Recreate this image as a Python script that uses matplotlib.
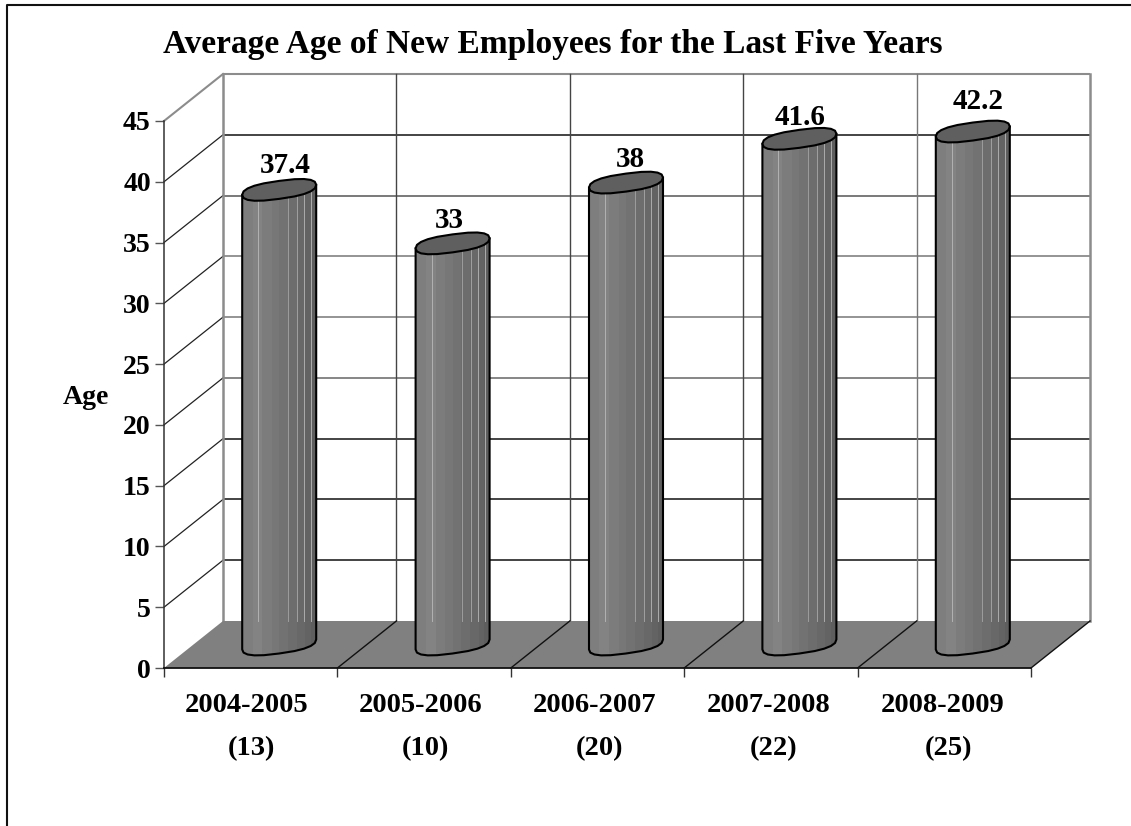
import numpy as np
import matplotlib
matplotlib.use('Agg')
import matplotlib.pyplot as plt
from matplotlib.lines import Line2D
from matplotlib.patches import Polygon

plt.rcParams['font.family'] = ['Liberation Serif', 'DejaVu Serif']
plt.rcParams['font.weight'] = 'bold'

anos = ['2004-2005', '2005-2006', '2006-2007', '2007-2008', '2008-2009']
contratados = [13, 10, 20, 22, 25]
idades = [37.4, 33, 38, 41.6, 42.2]
rotulos = ['37.4', '33', '38', '41.6', '42.2']
rotulo_dx = [6, -3, 4, 1, 5.5]  # px from the cylinder centre
rotulo_dy = [24, 23, 23, 21, 30]  # px above the top of each cylinder
y_ticks = [0, 5, 10, 15, 20, 25, 30, 35, 40, 45]

W, H = 1131, 826
fig = plt.figure(figsize=(W / 100, H / 100), dpi=100)
ax = fig.add_axes([164 / W, 1 - 668 / H, 867 / W, 547 / H])
ax.set_xlim(0, 5)
ax.set_ylim(0, 45)
ax.patch.set_alpha(0)

# pixels per data unit, used for the oblique depth of the box
px_x = 867 / 5
px_y = 547 / 45
DX = 59 / px_x
DY = 47 / px_y

# outer frame, only left and top
fig.add_artist(Line2D([7 / W, 7 / W, 1], [0, 1 - 5 / H, 1 - 5 / H], color='#111111', lw=1.5))

# back wall and side wall grid
cores_grade = ['#808080', '#111111', '#111111', '#111111', '#666666',
               '#777777', '#777777', '#555555', '#111111', '#8c8c8c']
for v, cor in zip(y_ticks[1:], cores_grade[1:]):
    ax.plot([DX, 5 + DX], [v + DY, v + DY], color=cor, lw=1.5 if cor == '#8c8c8c' else 1.1,
            clip_on=False, zorder=1, solid_capstyle='butt')
    ax.plot([0, DX], [v, v + DY], color='#8c8c8c' if v == 45 else '#222222',
            lw=1.5 if v == 45 else 0.9, clip_on=False, zorder=1)

cores_vert = ['#8c8c8c', '#444444', '#444444', '#444444', '#777777', '#8c8c8c']
for i, cor in enumerate(cores_vert):
    ax.plot([i + DX, i + DX], [DY, 45 + DY], color=cor,
            lw=1.8 if cor == '#8c8c8c' else 1.0, clip_on=False, zorder=1)

# floor
ax.add_patch(Polygon([(0, 0), (5, 0), (5 + DX, DY), (DX, DY)], closed=True, fc='#808080',
                     ec='none', clip_on=False, zorder=2))
for i in range(1, 6):
    ax.plot([i, i + DX], [0, DY], color='#111111', lw=1.0, clip_on=False, zorder=2.1)

# cylinders
a = 37 / px_x
b = 9 / px_y
s = 5 / px_y
desloc = 1 / px_x
faixas = [0.0, 0.14, 0.27, 0.40, 0.50, 0.62, 0.74, 0.85, 0.93, 1.0]
cores_faixa = ['#7e7e7e', '#838383', '#7c7c7c', '#777777', '#727272',
               '#6d6d6d', '#686868', '#636363', '#5e5e5e']
riscos = [16, 46, 55, 62, 69]
alpha_riscos = [0.55, 0.45, 0.5, 0.6, 0.65]


def aba(t):
    # blunt ellipse, the ends of the rim are squarer than a true ellipse
    c = np.cos(t)
    sn = np.sin(t)
    return np.sign(c) * np.abs(c) ** 0.75, np.sign(sn) * np.abs(sn) ** 0.85


for i, v in enumerate(idades):
    cx = i + 0.5 + DX / 2 - desloc
    y0 = DY / 2
    y1 = v + DY / 2
    t = np.linspace(np.pi, 2 * np.pi, 11)
    cu, su = aba(t)
    arco_x = cx + a * cu
    arco_y = y0 + s * cu + b * su
    corpo = np.column_stack([np.r_[arco_x, cx + a, cx - a], np.r_[arco_y, y1 + s, y1 - s]])
    contorno = Polygon(corpo, closed=True, transform=ax.transData, fc='none', ec='none')
    ax.add_patch(contorno)
    for k, cor in enumerate(cores_faixa):
        x0 = cx - a + 2 * a * faixas[k]
        x1 = cx - a + 2 * a * faixas[k + 1]
        barra = ax.bar(x0, y1 + s - y0 + b + s, width=x1 - x0, bottom=y0 - b - s, align='edge',
                       color=cor, lw=0, zorder=3, clip_on=True)
        barra[0].set_clip_path(contorno)
    # thin lit stripes stop where the floor meets the back wall
    for off, al in zip(riscos, alpha_riscos):
        xr = cx - a + off / px_x
        ax.plot([xr, xr], [DY, y1], color='#d8d8d8', lw=0.7, alpha=al, zorder=3.1, clip_on=False)
    # outline of sides and lower rim
    ax.plot(np.r_[cx - a, arco_x, cx + a], np.r_[y1 - s, arco_y, y1 + s], color='black', lw=1.5,
            zorder=3.2, clip_on=False, solid_joinstyle='round')
    # faceted top
    t2 = np.linspace(0, 2 * np.pi, 21)
    cu2, su2 = aba(t2)
    topo = np.column_stack([cx + a * cu2, y1 + s * cu2 + b * su2])
    ax.add_patch(Polygon(topo, closed=True, fc='#5f5f5f', ec='black', lw=1.5, zorder=3.3,
                         clip_on=False, joinstyle='round'))
    ax.annotate(rotulos[i], (cx, y1), xytext=(rotulo_dx[i] * 0.72, rotulo_dy[i] * 0.72),
                textcoords='offset points', ha='center', va='center', fontsize=21,
                fontweight='bold', zorder=5)

# axes
for lado in ['top', 'right']:
    ax.spines[lado].set_visible(False)
ax.spines['left'].set_color('#333333')
ax.spines['left'].set_linewidth(1.1)
ax.spines['bottom'].set_color('#111111')
ax.spines['bottom'].set_linewidth(1.3)
ax.set_zorder(2)
ax.set_yticks(y_ticks)
ax.set_xticks(range(6))
ax.set_xticklabels([])
ax.tick_params(axis='y', length=6.5, width=1.0, color='#555555', labelsize=20, pad=3)
ax.tick_params(axis='x', length=6.5, width=1.0, color='#333333')
for lab in ax.get_yticklabels():
    lab.set_fontweight('bold')

for i, (ano, n) in enumerate(zip(anos, contratados)):
    xp = 246.7 + i * 174.1
    fig.text(xp / W, 1 - 705 / H, ano, ha='center', va='center', fontsize=20.5, fontweight='bold')
    fig.text((xp + 5) / W, 1 - 749 / H, '(%d)' % n, ha='center', va='center', fontsize=20.5,
             fontweight='bold')

fig.text(86 / W, 1 - 397 / H, 'Age', ha='center', va='center', fontsize=20, fontweight='bold')
fig.text(553 / W, 1 - 44 / H, 'Average Age of New Employees for the Last Five Years',
         ha='center', va='center', fontsize=24, fontweight='bold')

fig.savefig('out.png', dpi=100)
